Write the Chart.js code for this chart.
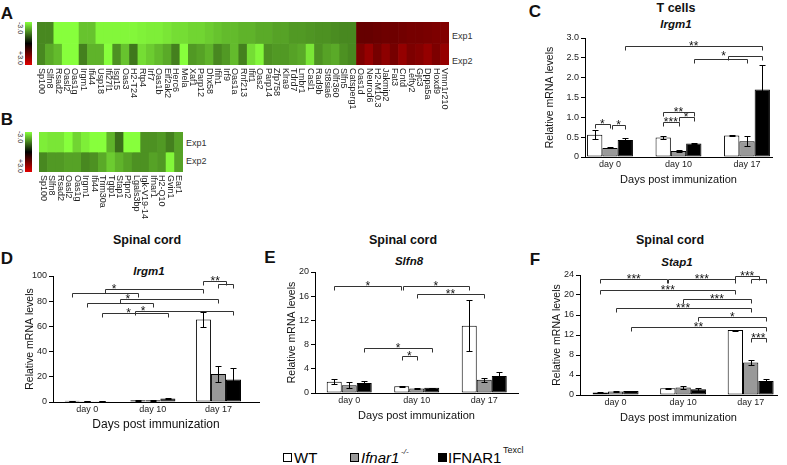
<!DOCTYPE html>
<html>
<head>
<meta charset="utf-8">
<script src="https://cdn.jsdelivr.net/npm/chart.js@4.4.1/dist/chart.umd.min.js"></script>
<style>
  body { margin: 0; background: #fff; font-family: 'Liberation Sans', Arial, sans-serif; }
  #page { position: relative; width: 787px; height: 465px; overflow: hidden; }
  canvas { position: absolute; }
  .t { position: absolute; white-space: nowrap; line-height: 1; transform: translate(-50%, -50%); color: #111; }
  .abs { position: absolute; white-space: nowrap; line-height: 1; color: #111; }
  .letter { font-weight: bold; font-size: 17px; }
  .head { font-weight: bold; font-size: 12.5px; }
  .gene { font-weight: bold; font-style: italic; font-size: 11.5px; }
  .exp { font-size: 9px; color: #333; }
  .cb { position: absolute; width: 7px; background: linear-gradient(to bottom, rgb(135,255,60), #000 50%, #e00000); }
  .cbl { position: absolute; font-size: 7px; color: #333; transform: translate(-50%, -50%) rotate(90deg); white-space: nowrap; }
  .sq { position: absolute; width: 9px; height: 9px; box-sizing: border-box; border: 1px solid #000; }
  .lg { position: absolute; font-size: 15px; line-height: 15px; white-space: nowrap; color: #000; }
</style>
</head>
<body>
<div id="page">
  <div class="t letter" style="left:7px; top:13px">A</div>
  <div class="t letter" style="left:7px; top:119px">B</div>
  <div class="t letter" style="left:535px; top:11px">C</div>
  <div class="t letter" style="left:7px; top:258px">D</div>
  <div class="t letter" style="left:270px; top:257px">E</div>
  <div class="t letter" style="left:535px; top:259px">F</div>

  <div class="cb" style="left:25px; top:22px; height:43px"></div>
  <div class="cbl" style="left:20px; top:28px">-3.0</div>
  <div class="cbl" style="left:20px; top:58px">+3.0</div>
  <div class="abs exp" style="left:452px; top:32px">Exp1</div>
  <div class="abs exp" style="left:452px; top:57px">Exp2</div>

  <div class="cb" style="left:25px; top:132px; height:40px"></div>
  <div class="cbl" style="left:20px; top:137px">-3.0</div>
  <div class="cbl" style="left:20px; top:166px">+3.0</div>
  <div class="abs exp" style="left:186px; top:139px">Exp1</div>
  <div class="abs exp" style="left:186px; top:157px">Exp2</div>

  <div class="t head" style="left:676px; top:8px">T cells</div>
  <div class="t gene" style="left:676px; top:25px">Irgm1</div>
  <div class="t head" style="left:147px; top:240px">Spinal cord</div>
  <div class="t gene" style="left:149px; top:272px">Irgm1</div>
  <div class="t head" style="left:403px; top:240px">Spinal cord</div>
  <div class="t gene" style="left:409px; top:262px">Slfn8</div>
  <div class="t head" style="left:670px; top:240px">Spinal cord</div>
  <div class="t gene" style="left:677px; top:263px">Stap1</div>

  <canvas id="heatA"></canvas>
  <canvas id="heatB"></canvas>
  <canvas id="chartC"></canvas>
  <canvas id="chartD"></canvas>
  <canvas id="chartE"></canvas>
  <canvas id="chartF"></canvas>

  <div class="sq" style="left:283px; top:453px; background:#fff"></div>
  <div class="lg" style="left:294px; top:450px">WT</div>
  <div class="sq" style="left:350px; top:453px; background:#999"></div>
  <div class="lg" style="left:361px; top:450px; font-style:italic">Ifnar1</div>
  <div class="abs" style="left:401px; top:448px; font-size:8px; font-style:italic">-/-</div>
  <div class="sq" style="left:438px; top:453px; background:#000"></div>
  <div class="lg" style="left:448px; top:450px">IFNAR1</div>
  <div class="abs" style="left:503px; top:446px; font-size:9px">Texcl</div>
</div>

<script>
// heatmap A
const genesA = ['Sp100', 'Slfn8', 'Rsad2', 'Oasl2', 'Oas1g', 'Irgm1', 'Ifi44', 'Usp18', 'Ifi27l1', 'Isg15',
  'Oas3', 'H2-T24', 'Rtp4', 'Irf7', 'Oas1b', 'Eif2ak2', 'Herc6', 'Mela', 'Xaf1', 'Parp12',
  'Dhx58', 'Ifih1', 'Irf9', 'Oas1a', 'Rnf213', 'Ifit1', 'Oas2', 'Parp14', 'Zfp758', 'Klra9',
  'Tdrd7', 'Lmbr1', 'Casl1', 'Rad9b', 'St8sia6', 'Olfr360', 'Slfn5', 'Catsperg1', 'Oas1d', 'Neurod6',
  'H2-M10.3', 'Jakmip2', 'Fat3', 'Cntd', 'Lefty2', 'Gjc3', 'Dppa5a', 'Hoxd9', 'Vmn1r210'];
const exp1A = [-1.6, -1.6, -3, -3, -3, -2.3, -2.3, -2.9, -2.9, -2.9,
  -2.9, -2.9, -2.85, -2.8, -2.8, -2.7, -2.6, -2.6, -2.5, -2.5,
  -2.4, -2.3, -2.2, -2.2, -2.1, -2.1, -2.0, -2.0, -1.9, -1.9,
  -1.8, -1.8, -1.75, -1.7, -1.7, -1.65, -1.6, -1.6, 1.3, 1.3,
  1.35, 1.4, 1.4, 1.45, 1.5, 1.5, 1.55, 1.6, 1.65];
const exp2A = [-1.6, -2.0, -2.2, -3, -3, -1.5, -2.1, -2.1, -3, -1.7,
  -2.3, -1.4, -2.6, -2.4, -2.2, -2.0, -1.5, -3, -1.8, -1.9,
  -2.1, -1.6, -1.8, -2.2, -1.5, -2.6, -2.9, -1.7, -1.8, -1.8,
  -1.9, -2.0, -2.7, -1.7, -1.9, -2.0, -1.7, -1.6, 1.6, 1.9,
  1.5, 1.8, 1.5, 1.9, 1.6, 1.7, 1.9, 1.6, 1.9];

// heatmap B
const genesB = ['Sp100', 'Slfn8', 'Rsad2', 'Oasl2', 'Oas1g', 'Irgm1', 'Ifi44', 'Trim30a', 'Tgtp1', 'Stap1',
  'Ptpn2', 'Lgals3bp', 'Igk-V19-14', 'Ifnar1', 'H2-Q10', 'Gvin1', 'Ear1'];
const exp1B = [-2.8, -2.7, -2.7, -3, -2.5, -2.8, -3, -3, -2.1, -1.3, -3, -3, -1.7, -1.7, -1.8, -1.5, -1.9];
const exp2B = [-1.6, -1.8, -1.8, -1.9, -1.9, -1.6, -1.7, -2.0, -2.4, -2.1, -1.9, -1.7, -1.7, -1.9, -1.8, -2.9, -1.9];

const dayLabels = ['day 0', 'day 10', 'day 17'];

// C: T cells, Irgm1
const cWt = [0.56, 0.49, 0.54], cWtErr = [0.11, 0.03, 0.02];
const cKo = [0.23, 0.15, 0.40], cKoErr = [0.01, 0.02, 0.12];
const cTx = [0.43, 0.34, 1.70], cTxErr = [0.05, 0.02, 0.63];
// [from, to, level, stars, star position]
const cSig = [[-0.223, 0.0, 0.82, '*'], [0.03, 0.223, 0.81, '*'],
  [0.777, 1.0, 0.89, '***'], [1.0, 1.223, 1.0, '*'], [0.777, 1.223, 1.14, '**'],
  [1.223, 2.0, 2.47, ''], [1.72, 2.223, 2.54, '*', 1.66], [0.223, 2.223, 2.80, '**']];

// D: spinal cord, Irgm1
const dWt = [0.9, 1.4, 65.5], dWtErr = [0.2, 0.3, 5.7];
const dKo = [0.6, 1.3, 22.3], dKoErr = [0.1, 0.2, 6.5];
const dTx = [0.6, 2.8, 17.8], dTxErr = [0.1, 0.5, 9.0];
const dSig = [[-0.229, 0.771, 86.6, ''], [0.27, 1.771, 89.5, '*', 0.41],
  [0, 1.0, 78.2, ''], [0.5, 2.0, 81.6, '*', 0.62],
  [0.229, 1.229, 70.3, '*', 0.63], [0.73, 2.229, 72.1, '*', 0.85],
  [2.0, 2.229, 93.5, ''], [1.771, 2.11, 96.3, '**', 1.95]];

// E: spinal cord, Slfn8
const eWt = [1.85, 1.1, 11.1], eWtErr = [0.4, 0.1, 4.2];
const eKo = [1.3, 0.75, 2.2], eKoErr = [0.55, 0.1, 0.3];
const eTx = [1.65, 0.85, 2.8], eTxErr = [0.3, 0.05, 0.6];
const eSig = [[-0.222, 0.77, 17.7, '*'], [0.79, 1.778, 17.7, '*'], [1.0, 2.0, 16.3, '**'],
  [0.222, 1.222, 7.5, '*'], [0.778, 1.0, 6.1, '*']];

// F: spinal cord, Stap1
const fWt = [0.5, 1.35, 13.0], fWtErr = [0.05, 0.1, 0.1];
const fKo = [0.7, 1.5, 6.5], fKoErr = [0.1, 0.35, 0.4];
const fTx = [0.8, 1.15, 2.8], fTxErr = [0.1, 0.3, 0.5];
const fSig = [[-0.227, 0.765, 23.1, '***'], [0.78, 1.773, 23.1, '***'],
  [2.0, 2.227, 23.2, ''], [1.773, 2.12, 23.8, '***', 1.95],
  [-0.227, 1.773, 21.0, '***'], [1.0, 2.0, 19.2, '***'], [0, 2.0, 17.5, '***'],
  [1.227, 2.227, 15.5, '*'], [0.227, 2.227, 13.7, '**'], [2.0, 2.227, 11.3, '***']];

Chart.defaults.font.family = "'Liberation Sans', Arial, sans-serif";
Chart.defaults.color = '#222';

function heatColor(v) {
  const k = Math.min(1, Math.abs(v) / 3);
  if (v < 0) return `rgb(${Math.round(k * 135)},${Math.round(k * 255)},${Math.round(k * 60)})`;
  return `rgb(${Math.round(k * 235)},0,0)`;
}

const geneLabels = {
  id: 'geneLabels',
  afterDraw(chart) {
    const { ctx, chartArea } = chart;
    const x = chart.scales.x;
    ctx.save();
    ctx.fillStyle = '#222';
    ctx.font = "9px 'Liberation Sans', Arial, sans-serif";
    ctx.textAlign = 'left';
    ctx.textBaseline = 'middle';
    chart.data.labels.forEach((lab, i) => {
      ctx.save();
      ctx.translate(x.getPixelForValue(i), chartArea.bottom + 3);
      ctx.rotate(Math.PI / 2);
      ctx.fillText(lab, 0, 0);
      ctx.restore();
    });
    ctx.restore();
  }
};

function heatmap(id, box, genes, row1, row2) {
  const cv = document.getElementById(id);
  cv.style.left = box.l + 'px';
  cv.style.top = box.t + 'px';
  cv.width = box.r - box.l;
  cv.height = box.b - box.t + 50;
  const cell = { grouped: false, categoryPercentage: 1, barPercentage: 1, borderWidth: 0 };
  new Chart(cv, {
    type: 'bar',
    data: {
      labels: genes,
      datasets: [
        { ...cell, label: 'Exp1', data: genes.map(() => [1, 2]), backgroundColor: row1.map(heatColor) },
        { ...cell, label: 'Exp2', data: genes.map(() => [0, 1]), backgroundColor: row2.map(heatColor) }
      ]
    },
    options: {
      responsive: false, animation: false, devicePixelRatio: 1,
      layout: { padding: { bottom: 50 } },
      plugins: { legend: { display: false }, tooltip: { enabled: false } },
      scales: { x: { display: false }, y: { display: false, min: 0, max: 2 } }
    },
    plugins: [geneLabels]
  });
}

function errorBars(errs) {
  return {
    id: 'errorBars',
    afterDatasetsDraw(chart) {
      const { ctx } = chart;
      const y = chart.scales.y;
      ctx.save();
      ctx.strokeStyle = '#000';
      ctx.lineWidth = 1;
      chart.data.datasets.forEach((ds, di) => {
        chart.getDatasetMeta(di).data.forEach((bar, i) => {
          const v = ds.data[i].y, e = errs[di][i];
          const x = Math.round(bar.x) + 0.5;
          const top = Math.round(y.getPixelForValue(v + e)) + 0.5;
          const bot = Math.round(y.getPixelForValue(Math.max(0, v - e))) + 0.5;
          ctx.beginPath();
          ctx.moveTo(x, top); ctx.lineTo(x, bot);
          ctx.moveTo(x - 3, top); ctx.lineTo(x + 3, top);
          ctx.moveTo(x - 3, bot); ctx.lineTo(x + 3, bot);
          ctx.stroke();
        });
      });
      ctx.restore();
    }
  };
}

function sigBrackets(list) {
  return {
    id: 'sigBrackets',
    afterDatasetsDraw(chart) {
      const { ctx } = chart;
      const xs = chart.scales.x, ys = chart.scales.y;
      ctx.save();
      ctx.strokeStyle = '#333';
      ctx.fillStyle = '#111';
      ctx.lineWidth = 1;
      ctx.font = "12px 'Liberation Sans', Arial, sans-serif";
      ctx.textAlign = 'center';
      ctx.textBaseline = 'alphabetic';
      list.forEach(([a, b, lvl, stars, at]) => {
        const x1 = Math.round(xs.getPixelForValue(a)) + 0.5;
        const x2 = Math.round(xs.getPixelForValue(b)) + 0.5;
        const py = Math.round(ys.getPixelForValue(lvl)) + 0.5;
        ctx.beginPath();
        ctx.moveTo(x1, py + 4); ctx.lineTo(x1, py); ctx.lineTo(x2, py); ctx.lineTo(x2, py + 4);
        ctx.stroke();
        if (stars) {
          const lx = xs.getPixelForValue(at === undefined ? (a + b) / 2 : at);
          ctx.fillText(stars, lx, py + 3);
        }
      });
      ctx.restore();
    }
  };
}

function barPanel(id, box, s) {
  const YW = 50, PT = 10, PR = 6, XH = 32;
  const cv = document.getElementById(id);
  const left = box.l - YW, top = box.t - PT;
  cv.style.left = left + 'px';
  cv.style.top = top + 'px';
  cv.width = box.r - left + PR;
  cv.height = box.b - top + XH;
  const pts = (vals) => vals.map((v, i) => ({ x: i, y: v }));
  const common = { borderColor: '#000', borderWidth: 1, borderSkipped: false,
    categoryPercentage: s.cat, barPercentage: 1 };
  new Chart(cv, {
    type: 'bar',
    data: {
      datasets: [
        { ...common, label: 'WT', data: pts(s.wt), backgroundColor: '#fff' },
        { ...common, label: 'Ifnar1-/-', data: pts(s.ko), backgroundColor: '#999' },
        { ...common, label: 'IFNAR1 Texcl', data: pts(s.tx), backgroundColor: '#000' }
      ]
    },
    options: {
      responsive: false, animation: false, devicePixelRatio: 1,
      layout: { padding: { top: PT, right: PR, left: 0, bottom: 0 } },
      plugins: { legend: { display: false }, tooltip: { enabled: false } },
      scales: {
        x: {
          type: 'linear', min: s.xMin, max: s.xMax, offset: false,
          afterBuildTicks: (sc) => { sc.ticks = [0, 1, 2].map(v => ({ value: v })); },
          afterFit: (sc) => { sc.height = XH; },
          ticks: { callback: (v) => dayLabels[v], font: { size: 9 }, color: '#222', padding: 2,
            maxRotation: 0, autoSkip: false },
          grid: { display: false, drawTicks: false, offset: false },
          border: { color: '#000' },
          title: { display: true, text: 'Days post immunization', color: '#111',
            font: { size: s.xtSize || 11 }, padding: { top: 0, bottom: 2 } }
        },
        y: {
          min: 0, max: s.yMax,
          afterFit: (sc) => { sc.width = YW; },
          ticks: { stepSize: s.step, callback: s.fmt || ((v) => v), font: { size: 9 }, color: '#222', padding: 2 },
          grid: { drawOnChartArea: false, tickLength: 4, color: '#000' },
          border: { color: '#000' },
          title: { display: true, text: 'Relative mRNA levels', color: '#111',
            font: { size: 10.5 }, padding: { top: s.ytPad, bottom: 0 } }
        }
      }
    },
    plugins: [errorBars(s.errs), sigBrackets(s.sig)]
  });
}

heatmap('heatA', { l: 37, t: 22, r: 449, b: 65 }, genesA, exp1A, exp2A);
heatmap('heatB', { l: 39, t: 132, r: 183, b: 172 }, genesB, exp1B, exp2B);

barPanel('chartC', { l: 585, t: 38, r: 772, b: 157 }, {
  wt: cWt, ko: cKo, tx: cTx, errs: [cWtErr, cKoErr, cTxErr], sig: cSig,
  xMin: -0.365, xMax: 2.365, cat: 0.67, yMax: 3, step: 0.5, ytPad: 8.7,
  fmt: (v) => (v === 0 ? '0' : v.toFixed(1))
});
barPanel('chartD', { l: 53, t: 276, r: 259, b: 402 }, {
  wt: dWt, ko: dKo, tx: dTx, errs: [dWtErr, dKoErr, dTxErr], sig: dSig,
  xMin: -0.522, xMax: 2.618, cat: 0.687, yMax: 100, step: 20, ytPad: 20.7, xtSize: 12
});
barPanel('chartE', { l: 315, t: 272, r: 518, b: 393 }, {
  wt: eWt, ko: eKo, tx: eTx, errs: [eWtErr, eKoErr, eTxErr], sig: eSig,
  xMin: -0.507, xMax: 2.5, cat: 0.667, yMax: 20, step: 4, ytPad: 20.4
});
barPanel('chartF', { l: 580, t: 275, r: 777, b: 395 }, {
  wt: fWt, ko: fKo, tx: fTx, errs: [fWtErr, fKoErr, fTxErr], sig: fSig,
  xMin: -0.527, xMax: 2.39, cat: 0.68, yMax: 24, step: 4, ytPad: 20.4
});
</script>
</body>
</html>
